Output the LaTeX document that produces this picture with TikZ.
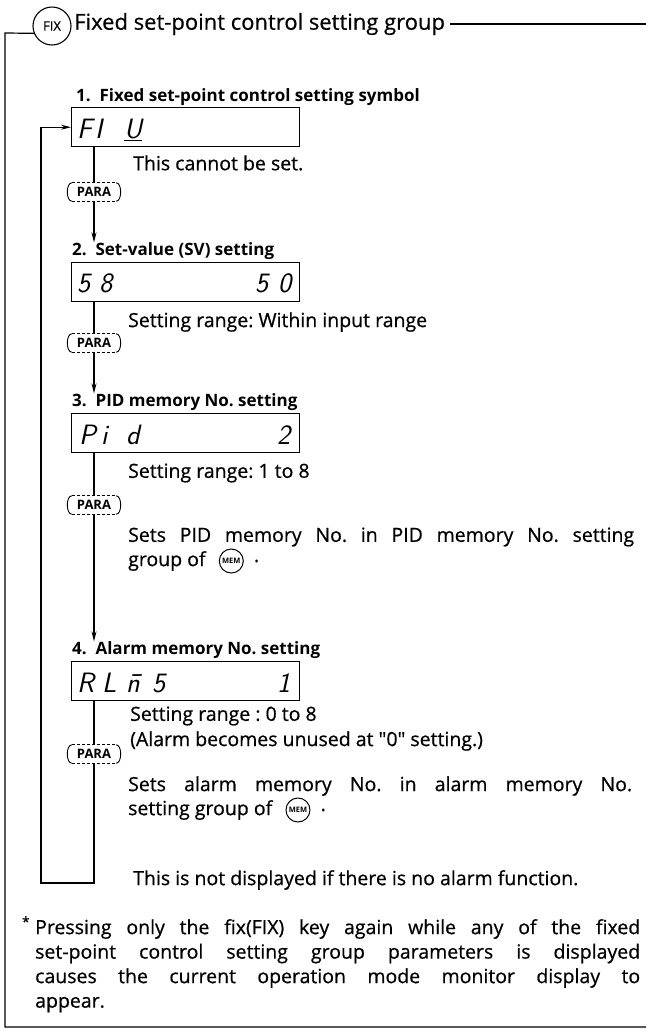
\documentclass[tikz,border=0pt]{standalone}
\usepackage{fontspec}
\setmainfont{Open Sans}
\newfontfamily\medfont{Open Sans}[FakeBold=0.6]
\usetikzlibrary{arrows.meta}
\newcommand\drawpara[1]{%
 \draw[line width=0.9pt] ([xshift=5pt]#1.north west) .. controls ([xshift=-1pt]#1.north west) and ([xshift=-1pt]#1.south west) .. ([xshift=5pt]#1.south west);
 \draw[line width=0.9pt] ([xshift=-5pt]#1.north east) .. controls ([xshift=1pt]#1.north east) and ([xshift=1pt]#1.south east) .. ([xshift=-5pt]#1.south east);
 \draw[line width=0.9pt,dash pattern=on 3pt off 2pt] ([xshift=5pt]#1.north west) -- ([xshift=-5pt]#1.north east);
 \draw[line width=0.9pt,dash pattern=on 3pt off 2pt] ([xshift=5pt]#1.south west) -- ([xshift=-5pt]#1.south east);}
\tikzset{
 frame/.style={line width=1.2pt},
 disp/.style={draw, line width=1.4pt, minimum width=228pt, minimum height=39pt, anchor=north west, inner sep=0},
 seg/.style={font=\sffamily\slshape\fontsize{28}{28}\selectfont, anchor=base west, inner sep=0},
 head/.style={font=\bfseries\fontsize{17}{18}\selectfont, anchor=west, inner sep=0},
 body/.style={font=\medfont\fontsize{19.5}{23}\selectfont, anchor=west, inner sep=0},
 para/.style={font=\bfseries\fontsize{13}{13}\selectfont, inner sep=0, minimum width=54pt, minimum height=18pt},
 flow/.style={line width=1.1pt},
 arr/.style={flow, -{Stealth[length=10pt,width=5pt]}},
 keycirc/.style={draw, circle, line width=1pt, minimum size=24pt, inner sep=0, font=\bfseries\fontsize{7.5}{7.5}\selectfont}
}
\begin{document}
\frenchspacing
\begin{tikzpicture}[x=1pt,y=-1pt]
\useasboundingbox (0,0) rectangle (646,1029);
% title and frame
\node[circle,draw,line width=1.1pt,minimum size=38pt,inner sep=0,font=\medfont\fontsize{13}{13}\selectfont] (fix) at (52,26) {FIX};
\node[anchor=west,inner sep=0,font=\medfont\fontsize{22}{22}\selectfont] (title) at (74,24) {Fixed set-point control setting group};
\coordinate (tr) at (646,24);
\coordinate (fc) at (5,33);
\coordinate (bl) at (5,1027);
\coordinate (br) at (646,1027);
\draw[frame] ([xshift=5pt]title.east) -- (tr);
\draw[frame] (fix.202) -- (fc) -- (bl) -- (br);
% step 1
\node[head] (h1) at (76,97) {1.\ \ Fixed set-point control setting symbol};
\node[disp] (b1) at (71,107) {};
\node[seg] (s11) at (77,138) {F};
\node[seg] (s12) at (95,138) {I};
\node[seg] (s13) at (124,138) {\underline{U}};
\node[body] (t1) at (133,163) {This cannot be set.};
\node[para] (p1) at (94,192) {PARA};
\drawpara{p1}
% step 2
\node[head] (h2) at (72,251) {2.\ \ Set-value (SV) setting};
\node[disp] (b2) at (71,262) {};
\node[seg] (s21) at (77,292) {5};
\node[seg] (s22) at (99,292) {8};
\node[seg] (s23) at (255,292) {5};
\node[seg] (s24) at (278,292) {0};
\node[body] (t2) at (128,322) {Setting range: Within input range};
\node[para] (p2) at (94,343) {PARA};
\drawpara{p2}
% step 3
\node[head] (h3) at (72,402) {3.\ \ PID memory No. setting};
\node[disp] (b3) at (71,413) {};
\node[seg] (s31) at (79,444) {P};
\node[seg] (s32) at (101,444) {i};
\node[seg] (s33) at (126,444) {d};
\node[seg] (s34) at (277,444) {2};
\node[body] (t3) at (128,473) {Setting range: 1 to 8};
\node[para] (p3) at (94,505) {PARA};
\drawpara{p3}
\node[body] (t3a) at (128,537) {\makebox[506pt][s]{Sets PID memory No. in PID memory No. setting}};
\node[body] (t3b) at (128,561) {group of};
\node[keycirc, anchor=west] (m1) at ([xshift=13pt]t3b.east) {MEM};
\node[body] (t3c) at ([xshift=10pt]m1.east) {.};
% step 4
\node[head] (h4) at (72,650) {4.\ \ Alarm memory No. setting};
\node[disp] (b4) at (71,661) {};
\node[seg] (s41) at (77,692) {R};
\node[seg] (s42) at (102,692) {L};
\node[seg] (s43) at (126,692) {\={n}};
\node[seg] (s44) at (152,692) {5};
\node[seg] (s45) at (277,692) {1};
\node[body] (t4) at (130,716) {Setting range : 0 to 8};
\node[body] (t4b) at (130,741) {(Alarm becomes unused at "0" setting.)};
\node[para] (p4) at (94,754) {PARA};
\drawpara{p4}
\node[body] (t4c) at (128,786) {\makebox[504pt][s]{Sets alarm memory No. in alarm memory No.}};
\node[body] (t4d) at (128,810) {setting group of};
\node[keycirc, anchor=west] (m2) at ([xshift=13pt]t4d.east) {MEM};
\node[body] (t4e) at ([xshift=10pt]m2.east) {.};
\coordinate (lb) at (41,883);
\node[body] (t5) at (133,880) {This is not displayed if there is no alarm function.};
% connectors
\draw[flow] (b1.south -| p1) -- (p1.north);
\draw[arr] (p1.south) -- (p1 |- h2.north);
\draw[flow] (b2.south -| p2) -- (p2.north);
\draw[arr] (p2.south) -- (p2 |- h3.north);
\draw[flow] (b3.south -| p3) -- (p3.north);
\draw[arr] (p3.south) -- (p3 |- h4.north);
\draw[flow] (b4.south -| p4) -- (p4.north);
\draw[arr] (p4.south) |- (lb) |- (b1.west);
% footnote
\node[anchor=north west, inner sep=0, text width=605pt, align=justify, font=\medfont\fontsize{19.5}{24.5}\selectfont] (fn) at (35,916)
 {\llap{\textsuperscript{*}\ }Pressing only the fix(FIX) key again while any of the fixed\linebreak set-point control setting group parameters is displayed\linebreak causes the current operation mode monitor display to\linebreak appear.};
\end{tikzpicture}
\end{document}
